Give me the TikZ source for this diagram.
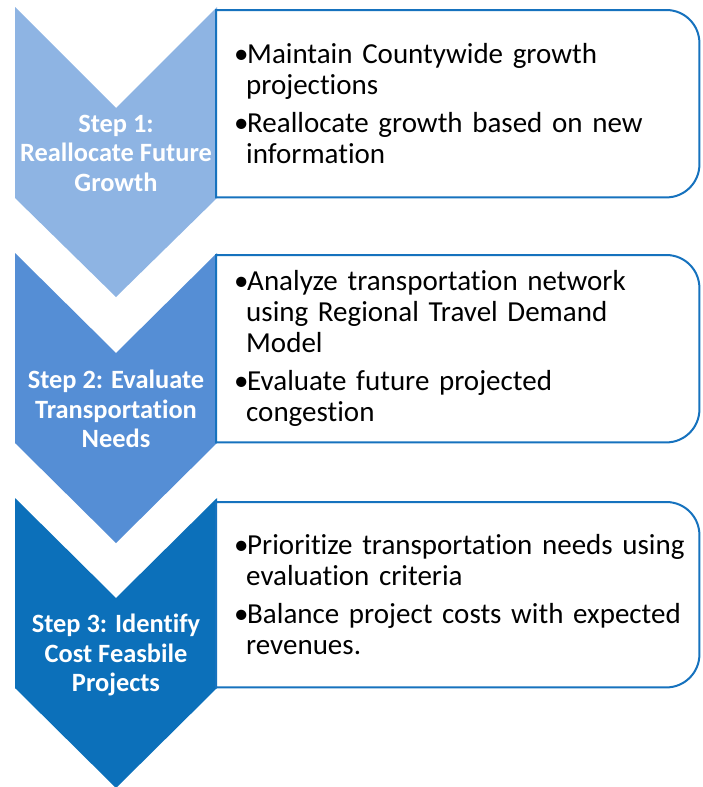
\documentclass[tikz,border=0pt]{standalone}
\usepackage{fontspec}
\setmainfont{Carlito}[Ligatures=NoCommon]
\usetikzlibrary{positioning}
\definecolor{stepa}{RGB}{142,180,227}
\definecolor{stepb}{RGB}{85,142,213}
\definecolor{stepc}{RGB}{12,112,186}
\definecolor{edge}{RGB}{22,114,190}
\tikzset{
  steplbl/.style={text=white,font=\fontsize{26.4}{29.5}\selectfont\bfseries,
    align=center,inner sep=0pt},
  panel/.style={fill=white,minimum width=483pt,inner sep=0pt,anchor=north west},
  rim/.style={draw=edge,line width=2pt},
  items/.style={font=\fontsize{29}{31}\selectfont,text width=465pt,
    align=left,inner sep=0pt,anchor=west,
    execute at begin node={\parskip=7pt\hyphenpenalty=10000\exhyphenpenalty=10000}},
}
\newcommand{\bul}[1]{\noindent\hangindent=12pt\hangafter=1%
  \makebox[13pt][l]{\textbullet}#1\par}

\begin{document}
\begin{tikzpicture}[x=1pt,y=-1pt]
  \useasboundingbox (0,0) rectangle (703,787);
  % chevrons
  \fill[stepa] (15,7) -- (116,108) -- (217,7) -- (217,198) -- (116,297) -- (15,198) -- cycle;
  \fill[stepb] (15,253) -- (116,353) -- (217,253) -- (217,443) -- (116,543) -- (15,443) -- cycle;
  \fill[stepc] (15,498) -- (116,598) -- (217,498) -- (217,688) -- (116,788) -- (15,688) -- cycle;
  \node[steplbl] (s1) at (116,153) {Step 1:\\Reallocate Future\\Growth};
  \node[steplbl] (s2) at (116,409) {Step 2: Evaluate\\Transportation\\Needs};
  \node[steplbl] (s3) at (116,655) {Step 3: Identify\\Cost Feasbile\\Projects};
  % panels
  \node[panel,minimum height=187pt] (p1) at (216,10) {};
  \node[panel,minimum height=187pt] (p2) at (216,255) {};
  \node[panel,minimum height=185pt] (p3) at (216,502) {};
  \foreach \p in {p1,p2,p3}
    \draw[rim] (\p.south west) -- (\p.north west) -- ([xshift=-33pt]\p.north east)
      arc[start angle=90,end angle=0,radius=33pt] -- ([yshift=33pt]\p.south east)
      arc[start angle=0,end angle=-90,radius=33pt] -- cycle;
  \node[items] (t1) at ([xshift=18pt]p1.west)
    {\bul{Maintain Countywide growth\newline projections}%
     \bul{Reallocate growth based on new\newline information}};
  \node[items] (t2) at ([xshift=18pt]p2.west)
    {\bul{Analyze transportation network\newline using Regional Travel Demand\newline Model}%
     \bul{Evaluate future projected\newline congestion}};
  \node[items] (t3) at ([xshift=18pt]p3.west)
    {\bul{Prioritize transportation needs using\newline evaluation criteria}%
     \bul{Balance project costs with expected\newline revenues.}};
\end{tikzpicture}
\end{document}
